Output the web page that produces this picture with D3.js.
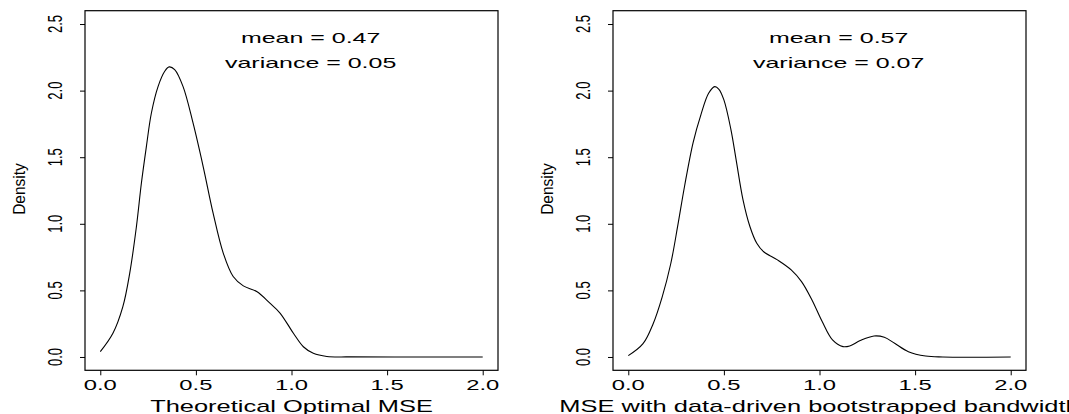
<!DOCTYPE html>
<html>
<head>
<meta charset="utf-8">
<script src="https://cdn.jsdelivr.net/npm/d3@7"></script>
<style>
  html, body { margin: 0; padding: 0; background: #fff; }
  svg { display: block; }
  text { font-family: "Liberation Sans", Arial, Helvetica, sans-serif; fill: #000; }
</style>
</head>
<body>
<svg id="chart" width="1069" height="414"></svg>
<script>
// ---- data ----
const xTicks = [0.0, 0.5, 1.0, 1.5, 2.0];
const xTickLabels = ["0.0", "0.5", "1.0", "1.5", "2.0"];
const yTicks = [0.0, 0.5, 1.0, 1.5, 2.0, 2.5];
const yTickLabels = ["0.0", "0.5", "1.0", "1.5", "2.0", "2.5"];

const leftX = [0, 0.066, 0.118, 0.154, 0.189, 0.215, 0.241, 0.267, 0.302, 0.337, 0.36, 0.389, 0.433, 0.485, 0.538, 0.59, 0.643, 0.695, 0.748, 0.818, 0.887, 0.94, 1.01, 1.062, 1.114, 1.185, 1.3, 1.6, 2.0];
const leftY = [0.04, 0.178, 0.378, 0.63, 0.98, 1.306, 1.58, 1.83, 2.03, 2.145, 2.178, 2.158, 2.03, 1.757, 1.43, 1.08, 0.78, 0.604, 0.534, 0.491, 0.404, 0.33, 0.178, 0.077, 0.028, 0.004, 0.0005, 0, 0];

const rightX = [0, 0.077, 0.13, 0.177, 0.222, 0.258, 0.294, 0.339, 0.38, 0.42, 0.452, 0.474, 0.5, 0.537, 0.564, 0.6, 0.636, 0.672, 0.708, 0.78, 0.852, 0.906, 0.96, 1.014, 1.068, 1.123, 1.158, 1.213, 1.285, 1.339, 1.393, 1.465, 1.555, 1.645, 2.0];
const rightY = [0.01, 0.10, 0.25, 0.45, 0.70, 0.98, 1.28, 1.61, 1.82, 1.98, 2.03, 2.01, 1.93, 1.706, 1.48, 1.18, 0.98, 0.854, 0.79, 0.729, 0.654, 0.566, 0.43, 0.266, 0.128, 0.078, 0.083, 0.123, 0.158, 0.148, 0.103, 0.04, 0.0075, 0, 0];

const xTitles = ["Theoretical Optimal MSE", "MSE with data-driven bootstrapped bandwidth"];
const meanLabels = ["mean = 0.47", "mean = 0.57"];
const varLabels = ["variance = 0.05", "variance = 0.07"];
const yTitle = "Density";

// ---- drawing ----
const svg = d3.select("#chart");
const panels = [
  { x: leftX, y: leftY, title: xTitles[0], mean: meanLabels[0], vari: varLabels[0], offset: 0 },
  { x: rightX, y: rightY, title: xTitles[1], mean: meanLabels[1], vari: varLabels[1], offset: 528 }
];

const HSTRETCH_TICK = 1.70, HSTRETCH_TITLE = 1.59, HSTRETCH_ANN = 1.71;

panels.forEach(p => {
  const left = 85 + p.offset, right = 498 + p.offset;
  const top = 10.7, bottom = 370.3;
  const xs = d3.scaleLinear().domain([-0.08, 2.08]).range([left, right]);
  const ys = d3.scaleLinear().domain([-0.1, 2.6]).range([bottom, top]);
  const g = svg.append("g");

  // box
  g.append("rect").attr("x", left).attr("y", top)
    .attr("width", right - left).attr("height", bottom - top)
    .attr("fill", "none").attr("stroke", "#000").attr("stroke-width", 1.2);

  // x axis (ticks below box)
  const xAxis = d3.axisBottom(xs).tickValues(xTicks).tickSize(5).tickFormat("");
  const xa = g.append("g").attr("transform", `translate(0,${bottom})`).call(xAxis);
  xa.select(".domain").remove();
  xa.selectAll("line").attr("stroke", "#000");
  xTicks.forEach((t, i) => {
    g.append("text")
      .attr("transform", `translate(${xs(t)},390) scale(${HSTRETCH_TICK},1)`)
      .attr("text-anchor", "middle").attr("font-size", 14)
      .text(xTickLabels[i]);
  });

  // y axis (ticks left of box)
  const yAxis = d3.axisLeft(ys).tickValues(yTicks).tickSize(5).tickFormat("");
  const ya = g.append("g").attr("transform", `translate(${left},0)`).call(yAxis);
  ya.select(".domain").remove();
  ya.selectAll("line").attr("stroke", "#000");
  yTicks.forEach((t, i) => {
    g.append("text")
      .attr("transform", `translate(${61.7 + p.offset},${ys(t)}) scale(1.5,1) rotate(-90)`)
      .attr("text-anchor", "middle").attr("font-size", 13)
      .text(yTickLabels[i]);
  });

  // y title
  g.append("text")
    .attr("transform", `translate(${24.5 + p.offset},189) scale(1.08,1) rotate(-90)`)
    .attr("text-anchor", "middle").attr("font-size", 15.5)
    .text(yTitle);

  // x title
  g.append("text")
    .attr("transform", `translate(${(left + right) / 2},411.5) scale(${HSTRETCH_TITLE},1)`)
    .attr("text-anchor", "middle").attr("font-size", 16)
    .text(p.title);

  // annotations
  g.append("text")
    .attr("transform", `translate(${xs(1.1)},42.5) scale(${HSTRETCH_ANN},1)`)
    .attr("text-anchor", "middle").attr("font-size", 14.6)
    .text(p.mean);
  g.append("text")
    .attr("transform", `translate(${xs(1.1)},68) scale(${HSTRETCH_ANN},1)`)
    .attr("text-anchor", "middle").attr("font-size", 14.6)
    .text(p.vari);

  // density curve
  const pts = p.x.map((v, i) => [v, p.y[i]]);
  const line = d3.line().x(d => xs(d[0])).y(d => ys(d[1])).curve(d3.curveCatmullRom.alpha(0.5));
  g.append("path").attr("d", line(pts))
    .attr("fill", "none").attr("stroke", "#000").attr("stroke-width", 1.1);
});
</script>
</body>
</html>
